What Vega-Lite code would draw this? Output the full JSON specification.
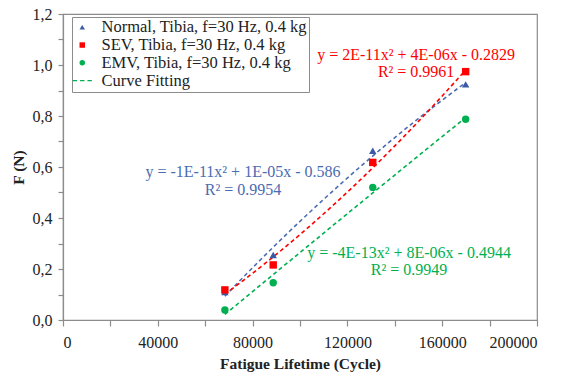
{
  "$schema": "https://vega.github.io/schema/vega-lite/v6.json",
  "width": 474,
  "height": 306,
  "autosize": {"type": "none"},
  "padding": {"left": 63, "top": 14, "right": 26, "bottom": 57},
  "background": "white",
  "datasets": {
    "pts": [
      {"series": "Normal, Tibia, f=30 Hz, 0.4 kg", "cycles": 68300, "F": 0.11},
      {"series": "Normal, Tibia, f=30 Hz, 0.4 kg", "cycles": 88700, "F": 0.255},
      {"series": "Normal, Tibia, f=30 Hz, 0.4 kg", "cycles": 130700, "F": 0.664},
      {"series": "Normal, Tibia, f=30 Hz, 0.4 kg", "cycles": 169900, "F": 0.924},
      {"series": "SEV, Tibia, f=30 Hz, 0.4 kg", "cycles": 68300, "F": 0.118},
      {"series": "SEV, Tibia, f=30 Hz, 0.4 kg", "cycles": 88700, "F": 0.216},
      {"series": "SEV, Tibia, f=30 Hz, 0.4 kg", "cycles": 130700, "F": 0.618},
      {"series": "SEV, Tibia, f=30 Hz, 0.4 kg", "cycles": 169900, "F": 0.974},
      {"series": "EMV, Tibia, f=30 Hz, 0.4 kg", "cycles": 68300, "F": 0.039},
      {"series": "EMV, Tibia, f=30 Hz, 0.4 kg", "cycles": 88700, "F": 0.146},
      {"series": "EMV, Tibia, f=30 Hz, 0.4 kg", "cycles": 130700, "F": 0.52},
      {"series": "EMV, Tibia, f=30 Hz, 0.4 kg", "cycles": 169900, "F": 0.787}
    ],
    "notes": [
      {"label": "y = 2E-11x² + 4E-06x - 0.2829", "cycles": 149000, "F": 1.039, "c": "#ff0000"},
      {"label": "R² = 0.9961", "cycles": 149000, "F": 0.973, "c": "#ff0000"},
      {"label": "y = -1E-11x² + 1E-05x - 0.586", "cycles": 75950, "F": 0.58, "c": "#4a6cb0"},
      {"label": "R² = 0.9954", "cycles": 75950, "F": 0.51, "c": "#4a6cb0"},
      {"label": "y = -4E-13x² + 8E-06x - 0.4944", "cycles": 146000, "F": 0.263, "c": "#00b050"},
      {"label": "R² = 0.9949", "cycles": 146000, "F": 0.196, "c": "#00b050"}
    ]
  },
  "encoding": {
    "x": {
      "field": "cycles", "type": "quantitative",
      "scale": {"domain": [0, 200000], "nice": false},
      "axis": {
        "title": "Fatigue Lifetime (Cycle)",
        "values": [0, 20000, 40000, 60000, 80000, 100000, 120000, 140000, 160000, 180000, 200000],
        "labelExpr": "datum.value % 40000 == 0 ? format(datum.value, 'd') : ''",
        "grid": false, "tickSize": 6, "labelPadding": 8, "titlePadding": 6
      }
    },
    "y": {
      "field": "F", "type": "quantitative",
      "scale": {"domain": [0, 1.2], "nice": false},
      "axis": {
        "title": "F (N)",
        "values": [0, 0.1, 0.2, 0.3, 0.4, 0.5, 0.6, 0.7, 0.8, 0.9, 1.0, 1.1, 1.2],
        "labelExpr": "round(datum.value * 10) % 2 == 0 ? replace(format(datum.value, '.1f'), '.', ',') : ''",
        "grid": false, "tickSize": 5, "labelPadding": 6, "titlePadding": 6
      }
    }
  },
  "layer": [
    {
      "data": {"name": "pts"},
      "transform": [
        {"regression": "F", "on": "cycles", "groupby": ["series"], "method": "poly", "order": 2}
      ],
      "mark": {"type": "line", "strokeDash": [4, 3], "strokeWidth": 1.6},
      "encoding": {
        "stroke": {"field": "series", "type": "nominal", "legend": null,
          "scale": {
            "domain": ["Normal, Tibia, f=30 Hz, 0.4 kg", "SEV, Tibia, f=30 Hz, 0.4 kg", "EMV, Tibia, f=30 Hz, 0.4 kg"],
            "range": ["#4a6cb0", "#ff0000", "#00b050"]
          }
        }
      }
    },
    {
      "data": {"name": "pts"},
      "mark": {"type": "point", "filled": true, "opacity": 1, "size": 55},
      "encoding": {
        "color": {"field": "series", "type": "nominal", "title": null,
          "scale": {
            "domain": ["Normal, Tibia, f=30 Hz, 0.4 kg", "SEV, Tibia, f=30 Hz, 0.4 kg", "EMV, Tibia, f=30 Hz, 0.4 kg", "Curve Fitting"],
            "range": ["#3a5aa6", "#ff0000", "#00b050", "#00b050"]
          }
        },
        "shape": {"field": "series", "type": "nominal", "title": null,
          "scale": {
            "domain": ["Normal, Tibia, f=30 Hz, 0.4 kg", "SEV, Tibia, f=30 Hz, 0.4 kg", "EMV, Tibia, f=30 Hz, 0.4 kg", "Curve Fitting"],
            "range": ["triangle-up", "square", "circle", "M-3.5,-0.2H-1.9V0.2H-3.5Z M-0.8,-0.2H0.8V0.2H-0.8Z M1.9,-0.2H3.5V0.2H1.9Z"]
          }
        }
      }
    },
    {
      "data": {"name": "notes"},
      "mark": {"type": "text", "font": "Liberation Serif", "fontSize": 16, "align": "center", "baseline": "middle"},
      "encoding": {
        "text": {"field": "label"},
        "fill": {"field": "c", "type": "nominal", "scale": null}
      }
    }
  ],
  "config": {
    "view": {"stroke": "#8c8c8c", "strokeWidth": 1.2},
    "axis": {
      "domainColor": "#8c8c8c", "tickColor": "#8c8c8c", "domainWidth": 1.2, "tickWidth": 1.2,
      "labelFont": "Liberation Serif", "labelFontSize": 16, "labelColor": "#222",
      "titleFont": "Liberation Serif", "titleFontSize": 15.5, "titleFontWeight": "bold", "titleColor": "#222"
    },
    "legend": {
      "orient": "none", "legendX": 9, "legendY": 3,
      "strokeColor": "#8c8c8c", "padding": 2,
      "labelFont": "Liberation Serif", "labelFontSize": 16.5, "labelColor": "#222", "labelLimit": 0,
      "symbolSize": 30, "labelOffset": 11, "rowPadding": 0.8,
      "symbolStrokeWidth": 0, "fillColor": "white"
    }
  }
}
